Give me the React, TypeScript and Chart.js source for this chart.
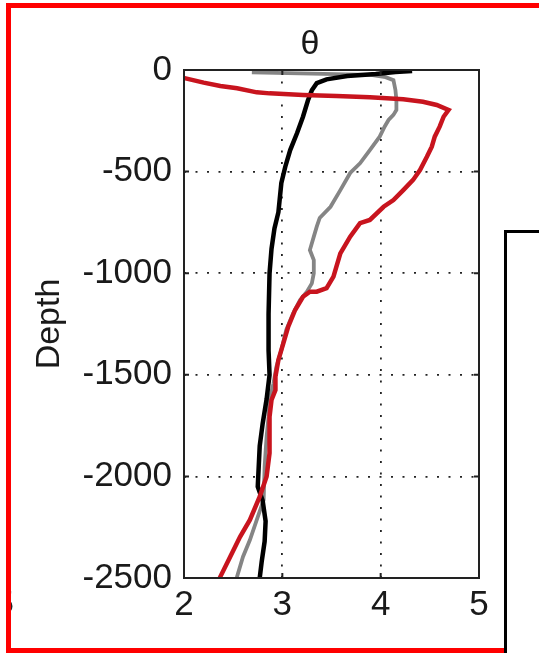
import React, { useEffect, useRef } from 'react';
import { Chart, registerables } from 'chart.js';

Chart.register(...registerables);

const xTickValues = [2, 3, 4, 5];
const yTickValues = [0, -500, -1000, -1500, -2000, -2500];
const titleText = 'θ';
const yTitleText = 'Depth';

const redTheta = [1.97, 2.2, 2.37, 2.54, 2.74, 2.87, 3.21, 3.55, 3.89, 4.23, 4.43, 4.57, 4.69, 4.64, 4.6, 4.55, 4.52, 4.47, 4.4, 4.33, 4.23, 4.13, 4.03, 3.89, 3.79, 3.69, 3.59, 3.55, 3.52, 3.45, 3.35, 3.28, 3.21, 3.13, 3.06, 3.01, 2.96, 2.93, 2.93, 2.89, 2.87, 2.87, 2.87, 2.84, 2.77, 2.67, 2.57, 2.47, 2.37, 2.33];
const redDepth = [-36, -62, -79, -90, -110, -115, -123, -128, -134, -144, -156, -172, -197, -230, -279, -328, -377, -427, -492, -541, -591, -640, -673, -738, -754, -820, -902, -968, -1017, -1074, -1091, -1091, -1116, -1181, -1263, -1345, -1427, -1509, -1575, -1624, -1706, -1804, -1885, -2001, -2100, -2214, -2297, -2395, -2493, -2540];

const blackTheta = [4.32, 4.15, 3.95, 3.66, 3.45, 3.35, 3.3, 3.26, 3.21, 3.15, 3.08, 3.03, 2.99, 2.96, 2.92, 2.89, 2.87, 2.86, 2.86, 2.87, 2.84, 2.8, 2.77, 2.75, 2.8, 2.83, 2.82, 2.79, 2.77, 2.77];
const blackDepth = [-5, -10, -20, -30, -46, -65, -100, -150, -230, -310, -394, -476, -556, -700, -780, -880, -1000, -1200, -1380, -1500, -1620, -1740, -1850, -2050, -2120, -2220, -2320, -2420, -2500, -2540];

const grayTheta = [2.69, 3.3, 3.9, 4.05, 4.13, 4.15, 4.16, 4.16, 4.13, 4.08, 4.04, 3.99, 3.89, 3.79, 3.69, 3.59, 3.49, 3.38, 3.35, 3.32, 3.28, 3.32, 3.32, 3.3, 3.25, 3.18, 3.11, 3.04, 2.99, 2.94, 2.91, 2.87, 2.86, 2.84, 2.82, 2.81, 2.74, 2.67, 2.6, 2.54, 2.52];
const grayDepth = [-12, -18, -24, -35, -50, -98, -148, -197, -221, -246, -279, -328, -394, -459, -507, -591, -673, -728, -771, -820, -886, -935, -1000, -1050, -1091, -1132, -1197, -1279, -1378, -1460, -1542, -1624, -1706, -1804, -1950, -2116, -2214, -2313, -2395, -2493, -2540];

const FONT = '"Liberation Sans", Arial, sans-serif';
const TEXT = '#1a1a1a';

const toPoints = (xs: number[], ys: number[]) => xs.map((x, i) => ({ x, y: ys[i] }));

const framePlugin = {
  id: 'frame',
  afterDatasetsDraw(chart: any) {
    const { ctx, chartArea, scales } = chart;
    const { left, right, top, bottom } = chartArea;
    const xs = scales.x;
    const ys = scales.y;
    ctx.save();
    ctx.strokeStyle = '#222';
    ctx.lineWidth = 2;
    ctx.setLineDash([]);
    ctx.strokeRect(left, top, right - left, bottom - top);
    const TL = 5;
    ctx.beginPath();
    xTickValues.forEach((v) => {
      const px = xs.getPixelForValue(v);
      ctx.moveTo(px, bottom);
      ctx.lineTo(px, bottom - TL);
      ctx.moveTo(px, top);
      ctx.lineTo(px, top + TL);
    });
    yTickValues.forEach((v) => {
      const py = ys.getPixelForValue(v);
      ctx.moveTo(left, py);
      ctx.lineTo(left + TL, py);
      ctx.moveTo(right, py);
      ctx.lineTo(right - TL, py);
    });
    ctx.stroke();
    ctx.fillStyle = TEXT;
    ctx.font = '34px ' + FONT;
    ctx.textAlign = 'center';
    ctx.textBaseline = 'middle';
    ctx.fillText(titleText, left + 126, top - 25);
    ctx.restore();
  },
};

function ChartView() {
  const ref = useRef<HTMLCanvasElement | null>(null);
  useEffect(() => {
    if (!ref.current) return;
    const chart = new Chart(ref.current, {
      type: 'scatter',
      data: {
        datasets: [
          {
            label: 'red',
            data: toPoints(redTheta, redDepth),
            showLine: true,
            borderColor: '#c8141e',
            borderWidth: 4.5,
            pointRadius: 0,
            tension: 0,
          },
          {
            label: 'black',
            data: toPoints(blackTheta, blackDepth),
            showLine: true,
            borderColor: '#000000',
            borderWidth: 4.5,
            pointRadius: 0,
            tension: 0,
          },
          {
            label: 'gray',
            data: toPoints(grayTheta, grayDepth),
            showLine: true,
            borderColor: '#858585',
            borderWidth: 3.8,
            pointRadius: 0,
            tension: 0,
          },
        ],
      },
      options: {
        responsive: false,
        animation: false,
        devicePixelRatio: 1,
        layout: { padding: { left: 0, top: 70, right: 60, bottom: 0 } },
        plugins: {
          legend: { display: false },
          tooltip: { enabled: false },
          title: { display: false },
        },
        scales: {
          x: {
            type: 'linear',
            min: 2,
            max: 5,
            afterBuildTicks: (s: any) => {
              s.ticks = xTickValues.map((v) => ({ value: v }));
            },
            afterFit: (s: any) => {
              s.height = 75;
            },
            ticks: {
              color: TEXT,
              font: { family: FONT, size: 35 },
              padding: 6,
              maxRotation: 0,
              callback: (v: any) => String(v),
            },
            grid: { color: '#222', lineWidth: 1.8, drawTicks: false, tickLength: 0 },
            border: { display: false, dash: [2, 9.5] },
          },
          y: {
            type: 'linear',
            min: -2500,
            max: 0,
            afterBuildTicks: (s: any) => {
              s.ticks = yTickValues.map((v) => ({ value: v }));
            },
            afterFit: (s: any) => {
              s.width = 184;
            },
            ticks: {
              color: TEXT,
              font: { family: FONT, size: 35 },
              padding: 12,
              callback: (v: any) => String(v),
            },
            grid: { color: '#222', lineWidth: 1.8, drawTicks: false, tickLength: 0 },
            border: { display: false, dash: [2, 9.5] },
            title: {
              display: true,
              text: yTitleText,
              color: TEXT,
              font: { family: FONT, size: 34 },
              padding: { top: 29, bottom: 0 },
            },
          },
        },
      },
      plugins: [framePlugin],
    });
    return () => chart.destroy();
  }, []);
  return <canvas ref={ref} width={539} height={653} style={{ display: 'block', width: 539, height: 653 }} />;
}

export default function App() {
  return (
    <div style={{ position: 'fixed', left: 0, top: 0, width: 539, height: 653, overflow: 'hidden', background: '#fff' }}>
      <div style={{ position: 'absolute', left: 0, top: 0 }}>
        <ChartView />
      </div>
      <div style={{ position: 'absolute', left: 11, top: 580, width: 6, height: 40, overflow: 'hidden' }}>
        <div style={{ position: 'absolute', left: -16, top: 5, font: '34px ' + FONT, lineHeight: 1, color: '#222' }}>5</div>
      </div>
      <div
        style={{
          position: 'absolute',
          left: 6,
          top: 3,
          width: 700,
          height: 650,
          border: '5px solid #ff0000',
          boxSizing: 'border-box',
          pointerEvents: 'none',
        }}
      />
      <div
        style={{
          position: 'absolute',
          left: 504,
          top: 230,
          width: 300,
          height: 600,
          border: '3px solid #000',
          boxSizing: 'border-box',
          background: '#fff',
        }}
      />
    </div>
  );
}
